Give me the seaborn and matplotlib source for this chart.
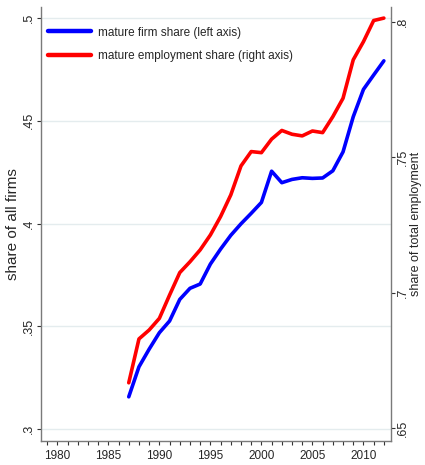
import matplotlib
matplotlib.use("Agg")
import matplotlib.pyplot as plt
import seaborn as sns
import pandas as pd

# Mature firms and their employment, 1987-2012
years = list(range(1987, 2013))
firm_share = [0.3157, 0.3303, 0.3389, 0.3469, 0.3526, 0.3631, 0.3685, 0.3706,
              0.3803, 0.3876, 0.3943, 0.3999, 0.4050, 0.4103, 0.4255, 0.4199,
              0.4215, 0.4223, 0.4220, 0.4222, 0.4257, 0.4349, 0.4520, 0.4653,
              0.4723, 0.4792]
emp_share = [0.6667, 0.6829, 0.6862, 0.6905, 0.6991, 0.7074, 0.7114, 0.7158,
             0.7213, 0.7281, 0.7361, 0.7468, 0.7521, 0.7517, 0.7567, 0.7599,
             0.7585, 0.7579, 0.7597, 0.7591, 0.7650, 0.7718, 0.7860, 0.7927,
             0.8005, 0.8014]

series_labels = ["mature firm share (left axis)",
                 "mature employment share (right axis)"]
left_ticks = [0.30, 0.35, 0.40, 0.45, 0.50]
left_tick_labels = [".3", ".35", ".4", ".45", ".5"]
right_ticks = [0.65, 0.70, 0.75, 0.80]
right_tick_labels = [".65", ".7", ".75", ".8"]
year_ticks = [1980, 1985, 1990, 1995, 2000, 2005, 2010]
year_tick_labels = [str(y) for y in year_ticks]
left_title = "share of all firms"
right_title = "share of total employment"

df = pd.DataFrame({"year": years, "firms": firm_share, "employment": emp_share})

sns.set_style("white")
fam = ["Liberation Sans", "DejaVu Sans"]
plt.rcParams["font.family"] = fam

W, H = 425, 465
ax_left, ax_right, ax_bottom, ax_top = 41, 391, 441, 7
fig = plt.figure(figsize=(W / 100, H / 100), dpi=100)
ax = fig.add_axes([ax_left / W, (H - ax_bottom) / H,
                   (ax_right - ax_left) / W, (ax_bottom - ax_top) / H])

sns.lineplot(data=df, x="year", y="firms", ax=ax, color="#0000ff", lw=2.6)
ax2 = ax.twinx()
sns.lineplot(data=df, x="year", y="employment", ax=ax2, color="#ff0000", lw=2.6)

# axis ranges
ax.set_xlim(1978.4, 2012.7)
ax.set_ylim(0.2942, 0.5054)
ax2.set_ylim(0.6452, 0.8055)

# left scale with its horizontal grid
ax.set_yticks(left_ticks)
ax.set_yticklabels(left_tick_labels, rotation=90, va="center", fontsize=9)
ax.grid(axis="y", color="#e4ecee", lw=1.0)
ax.grid(axis="x", visible=False)
ax.set_axisbelow(True)

ax2.set_yticks(right_ticks)
ax2.set_yticklabels(right_tick_labels, rotation=90, va="center", fontsize=9)
ax2.grid(False)

ax.set_xticks(year_ticks)
ax.set_xticklabels(year_tick_labels, fontsize=8.5)
ax.set_xticks(list(range(1979, 2013)), minor=True)

ax.set_xlabel("")
ax.set_ylabel(left_title, fontsize=11)
ax2.set_ylabel(right_title, fontsize=9, rotation=90)
width = ax_right - ax_left
ax.yaxis.set_label_coords((20 - ax_left) / width, 0.5)
ax2.yaxis.set_label_coords((410.5 - ax_left) / width, 0.5)

spine_color = "#7a7a7a"
for a in (ax, ax2):
    for s in a.spines.values():
        s.set_visible(False)
ax.spines["left"].set_visible(True)
ax.spines["bottom"].set_visible(True)
ax2.spines["right"].set_visible(True)
for s in (ax.spines["left"], ax.spines["bottom"], ax2.spines["right"]):
    s.set_color(spine_color)
    s.set_linewidth(1.0)

tick_len = 2.8   # points
ax.tick_params(axis="y", which="major", direction="out", length=tick_len,
               width=0.8, color="#333333", pad=1.3, left=True)
ax.tick_params(axis="x", which="major", direction="out", length=tick_len,
               width=0.8, color="#333333", pad=3.5, bottom=True)
ax.tick_params(axis="x", which="minor", direction="out", length=tick_len,
               width=0.8, color="#333333", bottom=True)
ax.tick_params(axis="y", which="minor", left=False)
ax2.tick_params(axis="y", which="major", direction="out", length=tick_len,
                width=0.8, color="#333333", pad=1.3, right=True)

handles = [ax.lines[0], ax2.lines[0]]
leg = ax2.legend(handles, series_labels, loc="upper left",
                 bbox_to_anchor=(0.02, 0.955), frameon=False,
                 borderaxespad=0, borderpad=0, handlelength=3.6,
                 handletextpad=0.6, labelspacing=0.95,
                 prop={"size": 8.5})
for line in leg.get_lines():
    line.set_linewidth(3.2)

fig.savefig("out.png", dpi=100)
